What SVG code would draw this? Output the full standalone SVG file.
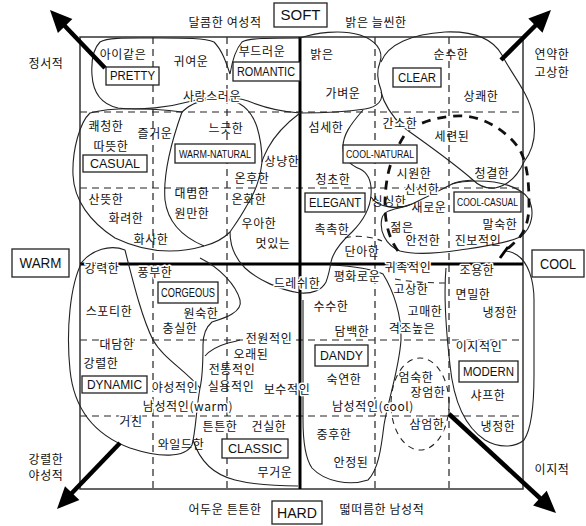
<svg xmlns="http://www.w3.org/2000/svg" width="586" height="526" viewBox="0 0 586 526">
<style>
.w{font-family:"Noto Sans CJK KR","Noto Sans",sans-serif;font-size:12px;letter-spacing:0.6px;fill:#111;text-anchor:middle;dominant-baseline:central}
.h{paint-order:stroke;stroke:#fff;stroke-width:3px;stroke-linejoin:round}
.b{fill:#fff;stroke:#222;stroke-width:1.3}
.bl{font-family:"Liberation Sans Narrow","Liberation Sans",sans-serif;font-size:12px;fill:#111;text-anchor:middle;dominant-baseline:central}
.sm{font-size:10.5px}
.ob{font-family:"Liberation Sans Narrow","Liberation Sans",sans-serif;font-size:14px;fill:#111;text-anchor:middle;dominant-baseline:central}
.grid{stroke:#222;stroke-width:1.2;stroke-dasharray:7 5;fill:none}
.frame{fill:none;stroke:#333;stroke-width:1.5}
.axis{stroke:#000;stroke-width:3;fill:none}
.blob{fill:none;stroke:#222;stroke-width:1.1}
.tdash{fill:none;stroke:#111;stroke-width:2.8;stroke-dasharray:9 7}
.dash{fill:none;stroke:#222;stroke-width:1.1;stroke-dasharray:6 5}
.arr{stroke:#000;stroke-width:4.5;fill:none}
.head{fill:#000}
</style>
<rect width="586" height="526" fill="#fff"/>

<g id="grid">
<line class="grid" x1="153" y1="37" x2="153" y2="489"/>
<line class="grid" x1="227" y1="37" x2="227" y2="489"/>
<line class="grid" x1="375" y1="37" x2="375" y2="489"/>
<line class="grid" x1="449" y1="37" x2="449" y2="489"/>
<line class="grid" x1="80" y1="112" x2="523" y2="112"/>
<line class="grid" x1="80" y1="188" x2="523" y2="188"/>
<line class="grid" x1="80" y1="340" x2="523" y2="340"/>
<line class="grid" x1="80" y1="416" x2="523" y2="416"/>
<rect class="frame" x="80" y="37" width="443" height="452"/>
<line class="axis" x1="300" y1="37" x2="300" y2="489"/>
<line class="axis" x1="80" y1="264" x2="523" y2="264"/>
</g>

<g id="regions">
<path class="blob" d="M300,113 C285,112 265,108 248,101 C232,96 210,96 192,101 C170,107 140,111 118,108 C100,104 93,92 92,75 C91,60 94,48 100,42 C108,37 130,38 160,38 C185,38 205,38 214,42 C222,50 226,62 230,74 C232,62 235,50 242,42 C248,38 270,38 300,38"/>
<path class="blob" d="M300,38 C315,33 340,29 360,35 C375,40 384,50 380,62 C376,72 377,80 381,90 C384,100 378,107 365,109 C345,112 320,113 300,113"/>
<path class="blob" d="M381,62 C388,44 412,34 445,32 C472,31 492,37 502,55 C512,75 528,92 533,115 C537,135 533,150 524,162 C518,175 510,185 495,188 C485,189 478,185 473,180"/>
<path class="blob" d="M381,92 C384,104 392,116 403,127 C425,143 450,160 473,180"/>
<path class="blob" d="M182,112 C150,108 110,107 90,113 C80,122 72,150 73,175 C74,200 90,222 115,238 C140,250 170,256 204,246"/>
<path class="blob" d="M204,246 C185,238 168,225 165,200 C163,175 172,140 182,112 C192,102 208,98 225,99 C242,101 252,112 257,127 C261,140 262,150 262,162 C260,180 254,195 246,207 C240,218 234,226 230,232 C222,240 212,244 204,246"/>
<path class="blob" d="M300,113 C288,122 275,135 268,148 C264,156 262,160 262,162"/>
<path class="blob" d="M230,232 C230,245 235,258 245,268 C258,280 280,290 300,293 C312,294 322,290 326,282 C329,274 330,268 331,262 C333,252 340,243 352,232 C362,222 370,210 371,195 C372,182 368,173 360,169 C350,165 343,158 343,147 C343,135 350,125 363,110"/>
<path class="blob" d="M371,197 C378,208 398,210 412,204 C428,196 445,188 452,184 C460,180 468,181 473,180"/>
<path class="blob" d="M412,204 C398,210 385,208 382,218 C379,230 385,245 400,251 C415,255 440,253 460,250 C480,247 505,244 520,237 C533,228 535,210 528,198 C520,187 500,181 478,181 C466,181 458,182 452,184"/>
<path class="tdash" d="M398,251 C390,240 385,225 385,205 C385,190 387,172 393,158 C397,148 402,138 408,130 C425,120 445,115 465,116 C485,118 505,130 518,147 C528,162 529,185 529,205 C529,222 524,235 514,243 C510,247 507,249 505,251"/>
<path class="blob" d="M446,268 C444,290 446,330 450,365 C453,395 462,425 485,440 C498,448 515,448 524,440 C532,428 534,405 534,375 L534,300 C534,280 528,262 517,255 C512,252 508,251 505,251"/>
<line x1="500" y1="258" x2="508" y2="247" stroke="#000" stroke-width="2.8"/>
<path class="blob" d="M331,265 C350,266 370,268 383,274 C393,290 402,315 401,340 C399,370 388,400 384,425 C381,450 378,470 368,480 C350,486 325,482 312,468 C305,458 303,440 303,420 L303,300"/>
<path class="blob" d="M125,250 C135,290 143,320 153,340 C163,358 185,370 200,388"/>
<path class="blob" d="M200,258 C220,268 236,285 240,300 C243,312 225,318 212,322 C205,328 203,335 203,345 C203,360 203,375 200,388"/>
<path class="blob" d="M125,250 C110,244 92,250 82,262 C70,285 66,330 70,370 C74,410 95,435 130,448 C160,458 185,458 192,445 C196,430 196,410 200,388"/>
<path class="blob" d="M193,440 C200,462 215,475 235,480 C255,485 280,486 298,486"/>
<path class="blob" d="M205,356 C210,350 218,346 228,343 C233,342 237,341 240,340"/>
<ellipse class="dash" cx="420" cy="404" rx="29" ry="46"/>
<path class="dash" d="M345,238 C355,235 370,236 382,241"/>
<path class="dash" d="M395,279 C410,282 430,283 447,283"/>
</g>

<g id="outer-labels">
<text class="w" x="225" y="21">달콤한 여성적</text>
<text class="w" x="376" y="21">밝은 늘씬한</text>
<text class="w" x="46" y="62">정서적</text>
<text class="w" x="552" y="53">연약한</text>
<text class="w" x="552" y="71">고상한</text>
<text class="w" x="46" y="458">강렬한</text>
<text class="w" x="46" y="474">야성적</text>
<text class="w" x="552" y="468">이지적</text>
<text class="w" x="225" y="508">어두운 튼튼한</text>
<text class="w" x="382" y="508">떫떠름한 남성적</text>
</g>

<g id="words">
<text class="w" x="123" y="53">아이같은</text>
<text class="w" x="191" y="60">귀여운</text>
<text class="w" x="262" y="50">부드러운</text>
<text class="w h" x="212" y="95">사랑스러운</text>
<text class="w" x="106" y="125">쾌청한</text>
<text class="w" x="155" y="132">즐거운</text>
<text class="w" x="226" y="127">느긋한</text>
<text class="w" x="111" y="145">따뜻한</text>
<text class="w" x="282" y="160">상냥한</text>
<text class="w" x="252" y="177">온후한</text>
<text class="w" x="192" y="192">대범한</text>
<text class="w" x="249" y="198">온화한</text>
<text class="w" x="106" y="198">산뜻한</text>
<text class="w" x="192" y="212">원만한</text>
<text class="w" x="126" y="217">화려한</text>
<text class="w" x="259" y="222">우아한</text>
<text class="w" x="151" y="238">화사한</text>
<text class="w" x="273" y="242">멋있는</text>

<text class="w" x="322" y="53">밝은</text>
<text class="w" x="451" y="53">순수한</text>
<text class="w" x="343" y="92">가벼운</text>
<text class="w" x="481" y="95">상쾌한</text>
<text class="w" x="326" y="126">섬세한</text>
<text class="w h" x="400" y="122">간소한</text>
<text class="w" x="452" y="135">세련된</text>
<text class="w" x="414" y="172">시원한</text>
<text class="w" x="492" y="172">청결한</text>
<text class="w" x="333" y="178">청초한</text>
<text class="w h" x="422" y="188">신선한</text>
<text class="w" x="389" y="200">싱싱한</text>
<text class="w" x="429" y="206">새로운</text>
<text class="w" x="332" y="228">촉촉한</text>
<text class="w" x="402" y="226">젊은</text>
<text class="w" x="500" y="223">말숙한</text>
<text class="w" x="423" y="239">안전한</text>
<text class="w" x="478" y="239">진보적인</text>
<text class="w" x="362" y="250">단아한</text>

<text class="w h" x="102" y="267">강력한</text>
<text class="w h" x="155" y="271">풍부한</text>
<text class="w" x="109" y="310">스포티한</text>
<text class="w" x="201" y="312">원숙한</text>
<text class="w" x="180" y="327">충실한</text>
<text class="w h" x="117" y="343">대담한</text>
<text class="w" x="101" y="362">강렬한</text>
<text class="w h" x="175" y="386">야성적인</text>
<text class="w h" x="188" y="405">남성적인(warm)</text>
<text class="w h" x="131" y="420">거친</text>
<text class="w" x="181" y="443">와일드한</text>
<text class="w h" x="269" y="337">전원적인</text>
<text class="w" x="251" y="353">오래된</text>
<text class="w" x="232" y="368">전통적인</text>
<text class="w" x="231" y="385">실용적인</text>
<text class="w h" x="287" y="388">보수적인</text>
<text class="w h" x="220" y="425">튼튼한</text>
<text class="w h" x="269" y="425">건실한</text>
<text class="w" x="275" y="471">무거운</text>

<text class="w h" x="297" y="282">드레쉬한</text>
<text class="w h" x="357" y="275">평화로운</text>
<text class="w h" x="408" y="266">귀족적인</text>
<text class="w h" x="477" y="269">조용한</text>
<text class="w" x="331" y="305">수수한</text>
<text class="w" x="411" y="288">고상한</text>
<text class="w" x="473" y="293">면밀한</text>
<text class="w" x="425" y="310">고매한</text>
<text class="w" x="500" y="311">냉정한</text>
<text class="w" x="352" y="330">담백한</text>
<text class="w h" x="412" y="327">격조높은</text>
<text class="w h" x="479" y="345">이지적인</text>
<text class="w" x="344" y="378">숙연한</text>
<text class="w" x="416" y="376">엄숙한</text>
<text class="w" x="428" y="391">장엄한</text>
<text class="w" x="488" y="394">샤프한</text>
<text class="w h" x="373" y="405">남성적인(cool)</text>
<text class="w h" x="427" y="423">삼엄한</text>
<text class="w h" x="498" y="425">냉정한</text>
<text class="w" x="334" y="433">중후한</text>
<text class="w" x="351" y="461">안정된</text>
</g>

<g id="soft"><rect class="b" x="274" y="3" width="53" height="24"/><text class="ob" x="300.5" y="15" textLength="40" lengthAdjust="spacingAndGlyphs">SOFT</text></g>
<g id="hard"><rect class="b" x="272" y="501" width="50" height="23"/><text class="ob" x="297" y="513" textLength="40" lengthAdjust="spacingAndGlyphs">HARD</text></g>
<g id="warm"><rect class="b" x="12" y="249" width="57" height="28"/><text class="ob" x="40.5" y="263" textLength="42" lengthAdjust="spacingAndGlyphs">WARM</text></g>
<g id="cool"><rect class="b" x="532" y="250" width="52" height="27"/><text class="ob" x="558" y="263.5" textLength="36" lengthAdjust="spacingAndGlyphs">COOL</text></g>

<g id="pretty"><rect class="b" x="106" y="67" width="53" height="18"/><text class="bl" x="132.5" y="76" textLength="45" lengthAdjust="spacingAndGlyphs">PRETTY</text></g>
<g id="romantic"><rect class="b" x="233" y="62" width="67" height="19"/><text class="bl" x="266" y="71.5" textLength="58" lengthAdjust="spacingAndGlyphs">ROMANTIC</text></g>
<g id="clear"><rect class="b" x="393" y="68" width="48" height="19"/><text class="bl" x="417" y="77.5" textLength="38" lengthAdjust="spacingAndGlyphs">CLEAR</text></g>
<g id="casual"><rect class="b" x="83" y="155" width="64" height="17"/><text class="bl" x="115" y="163.5" textLength="50" lengthAdjust="spacingAndGlyphs">CASUAL</text></g>
<g id="warm-natural"><rect class="b" x="175" y="144" width="80" height="19"/><text class="bl sm" x="215" y="153.5" textLength="72" lengthAdjust="spacingAndGlyphs">WARM-NATURAL</text></g>
<g id="cool-natural"><rect class="b" x="343" y="145" width="74" height="18"/><text class="bl sm" x="380" y="154" textLength="68" lengthAdjust="spacingAndGlyphs">COOL-NATURAL</text></g>
<g id="elegant"><rect class="b" x="305" y="193" width="60" height="19"/><text class="bl" x="335" y="202.5" textLength="52" lengthAdjust="spacingAndGlyphs">ELEGANT</text></g>
<g id="cool-casual"><rect class="b" x="454" y="192" width="67" height="20"/><text class="bl sm" x="487.5" y="202" textLength="61" lengthAdjust="spacingAndGlyphs">COOL-CASUAL</text></g>
<g id="gorgeous"><rect class="b" x="158" y="282" width="60" height="21"/><text class="bl" x="188" y="292.5" textLength="54" lengthAdjust="spacingAndGlyphs">CORGEOUS</text></g>
<g id="dandy"><rect class="b" x="315" y="345" width="53" height="21"/><text class="bl" x="341.5" y="355.5" textLength="43" lengthAdjust="spacingAndGlyphs">DANDY</text></g>
<g id="dynamic"><rect class="b" x="82" y="376" width="65" height="17"/><text class="bl" x="114.5" y="384.5" textLength="55" lengthAdjust="spacingAndGlyphs">DYNAMIC</text></g>
<g id="classic"><rect class="b" x="222" y="439" width="66" height="19"/><text class="bl" x="255" y="448.5" textLength="54" lengthAdjust="spacingAndGlyphs">CLASSIC</text></g>
<g id="modern"><rect class="b" x="459" y="361" width="59" height="21"/><text class="bl" x="488.5" y="371.5" textLength="51" lengthAdjust="spacingAndGlyphs">MODERN</text></g>

<g id="connectors">
<line class="arr" x1="105" y1="68" x2="62" y2="23"/>
<polygon class="head" points="50,10 72.4,19.1 57.9,32.9"/>
<line class="arr" x1="501" y1="60" x2="538" y2="23"/>
<polygon class="head" points="551,10 542.5,32.7 528.3,18.5"/>
<line class="arr" x1="120" y1="443" x2="70" y2="495"/>
<polygon class="head" points="57,509 79.4,500 65,486.2"/>
<line class="arr" x1="449" y1="414" x2="542" y2="500"/>
<polygon class="head" points="556,513 533.1,505.4 546.7,490.8"/>
</g>
</svg>
